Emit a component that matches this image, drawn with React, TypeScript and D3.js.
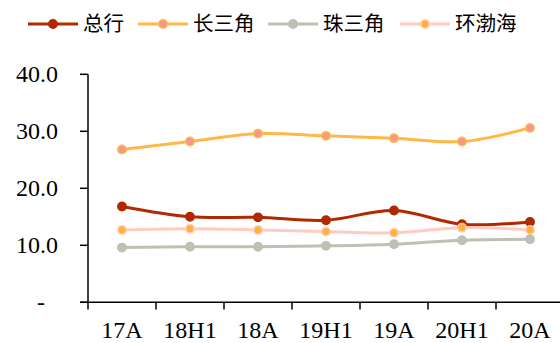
import React from "react";
import * as d3 from "d3";

const categories = ["17A", "18H1", "18A", "19H1", "19A", "20H1", "20A"];
const zonghang = [16.8, 15.0, 14.9, 14.4, 16.1, 13.7, 14.1];
const changsanjiao = [26.8, 28.2, 29.6, 29.2, 28.8, 28.2, 30.6];
const zhusanjiao = [9.6, 9.75, 9.75, 9.9, 10.2, 10.9, 11.05];
const huanbohai = [12.7, 12.9, 12.7, 12.4, 12.2, 13.1, 12.7];
const yTicks = [0, 10, 20, 30, 40];
const yTickLabels = ["-", "10.0", "20.0", "30.0", "40.0"];

const series = [
  { name: "总行", values: zonghang, line: "#B22800", fill: "#B22800", stroke: "#B22800" },
  { name: "长三角", values: changsanjiao, line: "#FFB845", fill: "#F7968A", stroke: "#FFB845" },
  { name: "珠三角", values: zhusanjiao, line: "#BFBFB3", fill: "#BFBFB3", stroke: "#BFBFB3" },
  { name: "环渤海", values: huanbohai, line: "#FFCBBE", fill: "#FFB23A", stroke: "#FFCBBE" },
];

const drawOrder = [1, 0, 3, 2];
const legendX = [28, 138, 268, 400];

export default function App() {
  const W = 560, H = 343;
  const x = d3.scaleBand().domain(categories).range([88, 564]);
  const y = d3.scaleLinear().domain([0, 40]).range([302.3, 74.3]);
  const cx = (c: string) => (x(c) as number) + x.bandwidth() / 2;
  const line = d3
    .line<number>()
    .x((_, i) => cx(categories[i]))
    .y((d) => y(d))
    .curve(d3.curveCatmullRom.alpha(0.5));
  const serif = "'Liberation Serif', 'Times New Roman', serif";
  const cjk = "'Noto Sans CJK SC', sans-serif";
  return (
    <svg width={W} height={H} style={{ position: "absolute", left: 0, top: 0 }}>
      <rect width={W} height={H} fill="#fff" />
      {/* legend */}
      {series.map((s, i) => (
        <g key={s.name}>
          <line x1={legendX[i]} x2={legendX[i] + 50} y1={24} y2={24} stroke={s.line} strokeWidth={3} />
          <circle cx={legendX[i] + 25} cy={24} r={4.2} fill={s.fill} stroke={s.stroke} strokeWidth={1.5} />
          <text x={legendX[i] + 55} y={31} fontFamily={cjk} fontSize={20.5} fill="#000">
            {s.name}
          </text>
        </g>
      ))}
      {/* y axis */}
      <line x1={88} x2={88} y1={74.3} y2={302.3} stroke="#000" strokeWidth={1.5} />
      {yTicks.map((t, i) => (
        <g key={t}>
          <line x1={80} x2={88} y1={y(t)} y2={y(t)} stroke="#000" strokeWidth={1.5} />
          <text
            x={t === 0 ? 45 : 58}
            y={y(t)}
            dy="0.33em"
            textAnchor="end"
            fontFamily={serif}
            fontSize={24}
            fill="#000"
          >
            {yTickLabels[i]}
          </text>
        </g>
      ))}
      {/* x axis */}
      <line x1={80} x2={560} y1={302.3} y2={302.3} stroke="#000" strokeWidth={1.5} />
      {categories.map((c) => (
        <g key={c}>
          <line x1={x(c) as number} x2={x(c) as number} y1={302.3} y2={309.5} stroke="#000" strokeWidth={1.5} />
          <text x={cx(c)} y={338} textAnchor="middle" fontFamily={serif} fontSize={24} fill="#000">
            {c}
          </text>
        </g>
      ))}
      {/* series */}
      {drawOrder.map((k) => {
        const s = series[k];
        return (
          <g key={s.name}>
            <path d={line(s.values) || ""} fill="none" stroke={s.line} strokeWidth={3} />
            {s.values.map((v, i) => (
              <circle
                key={i}
                cx={cx(categories[i])}
                cy={y(v)}
                r={4.2}
                fill={s.fill}
                stroke={s.stroke}
                strokeWidth={1.5}
              />
            ))}
          </g>
        );
      })}
    </svg>
  );
}
